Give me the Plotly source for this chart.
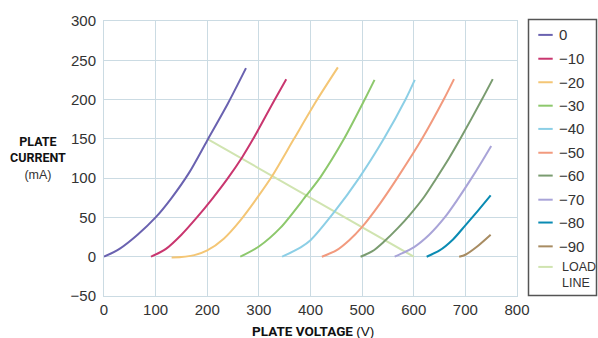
import plotly.graph_objects as go

# ---- data ----
names = ["0", "\u221210", "\u221220", "\u221230", "\u221240", "\u221250",
         "\u221260", "\u221270", "\u221280", "\u221290", "LOAD LINE"]

v_0 = [0, 30, 65, 100, 130, 165, 200, 240, 275]
i_0 = [0, 10, 28, 50, 74, 107, 148, 195, 240]

v_m10 = [91, 120, 150, 180, 210, 240, 268, 289, 329, 353]
i_m10 = [0, 10, 28, 50, 74, 100, 127, 150, 198, 226]

v_m20 = [131, 150, 175, 200, 232, 265, 300, 326, 368, 413, 453]
i_m20 = [-1, -0.5, 2, 8, 23, 47, 78, 103, 150, 200, 241]

v_m30 = [264, 300, 342, 392, 420, 465, 505, 524]
i_m30 = [0, 13, 37, 78, 102, 150, 200, 225]

v_m40 = [345, 381, 400, 445, 494, 542, 584, 602]
i_m40 = [0, 12, 21, 56, 100, 150, 200, 225]

v_m50 = [422, 450, 475, 500, 535, 568, 616, 658, 678]
i_m50 = [0, 8, 21, 38, 68, 100, 150, 200, 226]

v_m60 = [497, 520, 542, 570, 592, 620, 643, 668, 691, 732, 753]
i_m60 = [0, 7, 19, 37, 53, 76, 99, 125, 151, 200, 226]

v_m70 = [563, 573, 600, 630, 660, 685, 712, 730, 750]
i_m70 = [0, 3, 12, 28, 50, 73, 100, 119, 141]

v_m80 = [625, 650, 676, 700, 725, 749]
i_m80 = [0, 8, 22, 40, 59, 78]

v_m90 = [688, 700, 721, 749]
i_m90 = [0, 2.5, 12, 28]

v_load = [200, 600]
i_load = [150, 0]

x_ticks = [0, 100, 200, 300, 400, 500, 600, 700, 800]
y_ticks = [-50, 0, 50, 100, 150, 200, 250, 300]

# ---- styling ----
colors = ["#6a62b0", "#c9366f", "#f4c675", "#8dc86c", "#8ccfe6", "#f29a7e",
          "#7a9c70", "#a9a4d8", "#0a8bb3", "#a88c62", "#d0e4b0"]
series_v = [v_0, v_m10, v_m20, v_m30, v_m40, v_m50, v_m60, v_m70, v_m80, v_m90, v_load]
series_i = [i_0, i_m10, i_m20, i_m30, i_m40, i_m50, i_m60, i_m70, i_m80, i_m90, i_load]

W, H = 598, 338
ML, MR, MT, MB = 104, 81, 19, 42
PW, PH = W - ML - MR, H - MT - MB

def px2x(px):
    return (px - ML) / PW

def py2y(py):
    return (H - MB - py) / PH

TXT = "Liberation Sans, Arial, sans-serif"
COND = "Roboto, Liberation Sans, sans-serif"

fig = go.Figure()
order = list(range(len(names)))
for k in [10] + order[:10]:
    fig.add_trace(go.Scatter(
        x=series_v[k], y=series_i[k], name=names[k], mode="lines",
        line=dict(color=colors[k], width=2,
                  shape="spline" if k < 10 else "linear", smoothing=0.8),
        showlegend=False, hoverinfo="x+y+name"))

grid = "#cbdbe3"
fig.update_xaxes(range=[0, 800], tickvals=x_ticks, showgrid=True, gridcolor=grid,
                 gridwidth=1, zeroline=False, showline=True, linecolor=grid,
                 mirror=True, ticks="", tickfont=dict(family=TXT, size=15, color="#333"),
                 fixedrange=True)
fig.update_yaxes(range=[-50, 300], tickvals=y_ticks, showgrid=True, gridcolor=grid,
                 gridwidth=1, zeroline=False, showline=True, linecolor=grid,
                 mirror=True, ticks="", ticklabelstandoff=4,
                 tickfont=dict(family=TXT, size=15, color="#333"), fixedrange=True)

shapes = []
annotations = []

# legend box
shapes.append(dict(type="rect", xref="paper", yref="paper",
                   x0=px2x(528.5), x1=px2x(596.5), y0=py2y(295.5), y1=py2y(17.5),
                   line=dict(color="#555", width=1.5), fillcolor="rgba(0,0,0,0)"))
leg_y = [33, 57, 80.7, 104.3, 127.7, 151.7, 174.7, 199, 222, 246, 266.7]
for k, yy in enumerate(leg_y):
    shapes.append(dict(type="line", xref="paper", yref="paper",
                       x0=px2x(538.3), x1=px2x(552.7), y0=py2y(yy), y1=py2y(yy),
                       line=dict(color=colors[k], width=2)))
    if k < 10:
        annotations.append(dict(text=names[k], xref="paper", yref="paper",
                                x=px2x(556.5), y=py2y(yy), xanchor="left", yanchor="middle",
                                showarrow=False, font=dict(family=TXT, size=15, color="#333")))
    else:
        annotations.append(dict(text=names[k].replace(" ", "<br>"), xref="paper", yref="paper",
                                x=px2x(559.5), y=py2y(yy + 8), xanchor="left",
                                yanchor="middle", align="left", showarrow=False,
                                font=dict(family=TXT, size=12.5, color="#333")))

# y axis title (three lines in one text)
annotations.append(dict(
    text="<b>PLATE</b><br><b>CURRENT</b><br><span style='font-family:Liberation Sans;color:#333'>(mA)</span>",
    xref="paper", yref="paper", x=px2x(38), y=py2y(157), xanchor="center",
    yanchor="middle", align="center", showarrow=False,
    font=dict(family=COND, size=12.5, color="#111")))
# x axis title
annotations.append(dict(text="<b>PLATE VOLTAGE</b> <span style='font-family:Liberation Sans'>(V)</span>",
                        xref="paper", yref="paper", x=px2x(312.5), y=py2y(331),
                        xanchor="center", yanchor="middle", showarrow=False,
                        font=dict(family=COND, size=13.5, color="#111")))

fig.update_layout(width=W, height=H, margin=dict(l=ML, r=MR, t=MT, b=MB, pad=0),
                  paper_bgcolor="white", plot_bgcolor="white", showlegend=False,
                  shapes=shapes, annotations=annotations)

# remove the default 8px page margin so the figure fills the 598x338 window
fig.write_html("out.html", config={"displayModeBar": False},
               post_script="document.body.style.margin='0px';"
                           "document.body.style.overflow='hidden';")
